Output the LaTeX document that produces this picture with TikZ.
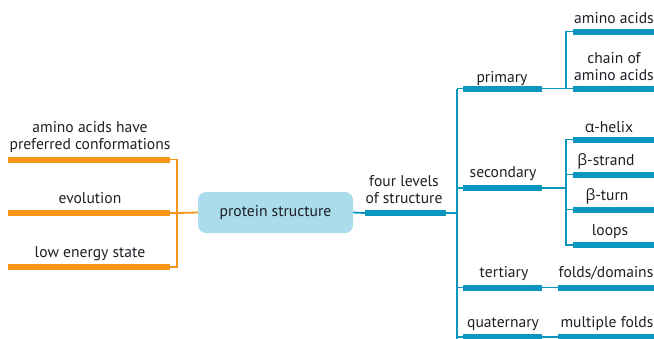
\documentclass[tikz,border=0pt]{standalone}
\usepackage{fontspec}
\setmainfont{PT Sans}
\newfontfamily\greekfont{Open Sans}
\definecolor{txt}{RGB}{30,30,38}
\definecolor{orgbar}{RGB}{245,150,25}
\definecolor{tbl}{RGB}{10,150,190}
\definecolor{boxfill}{RGB}{170,220,235}
\begin{document}
\begin{tikzpicture}[x=1pt,y=-1pt,
  font=\fontsize{15.6}{16.5}\selectfont, text=txt,
  obar/.style={fill=orgbar, draw=none, minimum height=6pt, inner sep=0pt, rectangle},
  tbar/.style={fill=tbl, draw=none, minimum height=6pt, inner sep=0pt, rectangle},
  olink/.style={draw=orgbar, line width=1.8pt},
  tlink/.style={draw=tbl, line width=1.8pt},
  lbl/.style={align=center, inner sep=0pt, anchor=base}]
\useasboundingbox (0,0) rectangle (654,338);

% left orange bars
\node[obar, minimum width=162pt] (o1) at (89,159.5) {};
\node[obar, minimum width=162pt] (o2) at (89,213) {};
\node[obar, minimum width=162pt] (o3) at (89,267) {};
\node[lbl] (lo1) at (90,149) {amino acids have\\preferred conformations};
\node[lbl] (lo2) at (90,203) {evolution};
\node[lbl] (lo3) at (90,257) {low energy state};
\coordinate (oj) at (177,213);
\draw[olink] (o1.east) -| (oj);
\draw[olink] (o3.east) -| (oj);
\draw[olink] (o2.east) -- (oj);

% central box
\node[fill=boxfill, rounded corners=8pt, minimum width=155pt, minimum height=41pt, inner sep=0pt] (ps) at (275.5,212.5) {protein structure};
\draw[olink] (oj) -- (ps.west);

% four levels
\node[tbar, minimum width=81pt] (fl) at (405.5,213) {};
\node[lbl] (lfl) at (404,203) {four levels\\of structure};
\draw[tlink] (ps.east) -- (fl.west);
\coordinate (mt) at (457,88.5);
\coordinate (mb) at (457,340);
\draw[tlink] (mt) -- (mb);
\draw[tlink] (fl.east) -- (457,213);

% level bars
\node[tbar, minimum width=79pt] (pri) at (502.5,88.5) {};
\node[tbar, minimum width=79pt] (sec) at (502.5,188) {};
\node[tbar, minimum width=79pt] (ter) at (502.5,287.5) {};
\node[tbar, minimum width=79pt] (qua) at (502.5,337) {};
\node[lbl] at (502,82) {primary};
\node[lbl] at (503,177) {secondary};
\node[lbl] at (504,277) {tertiary};
\node[lbl] at (503,327) {quaternary};
\draw[tlink] (mt) -- (pri.west);
\draw[tlink] (sec.west -| mt) -- (sec.west);
\draw[tlink] (ter.west -| mt) -- (ter.west);
\draw[tlink] (qua.west -| mt) -- (qua.west);

% primary children
\node[tbar, minimum width=83pt] (aa) at (614.5,31.5) {};
\node[tbar, minimum width=83pt] (ch) at (614.5,88.5) {};
\node[lbl] at (614,23) {amino acids};
\node[lbl] at (614,80) {chain of\\amino acids};
\coordinate (pj) at (566,88.5);
\draw[tlink] (pri.east) -- (ch.west);
\draw[tlink] (aa.west) -| (pj);

% secondary children
\node[tbar, minimum width=83pt] (ah) at (614.5,139.5) {};
\node[tbar, minimum width=83pt] (bs) at (614.5,174.5) {};
\node[tbar, minimum width=83pt] (bt) at (614.5,209.5) {};
\node[tbar, minimum width=83pt] (lp) at (614.5,245) {};
\node[lbl] at (609,132) {{\greekfont α}-helix};
\node[lbl] at (606,165) {{\greekfont β}-strand};
\node[lbl] at (607,200) {{\greekfont β}-turn};
\node[lbl] at (610,235) {loops};
\coordinate (sj) at (566,188);
\draw[tlink] (sec.east) -- (sj);
\draw[tlink] (ah.west) -| (sj);
\draw[tlink] (lp.west) -| (sj);
\draw[tlink] (bs.west) -- (bs.west -| sj);
\draw[tlink] (bt.west) -- (bt.west -| sj);

% tertiary / quaternary children
\node[tbar, minimum width=98pt] (fd) at (607,287.5) {};
\node[tbar, minimum width=98pt] (mf) at (607,337) {};
\node[lbl] at (606,277) {folds/domains};
\node[lbl] at (607,327) {multiple folds};
\draw[tlink] (ter.east) -- (fd.west);
\draw[tlink] (qua.east) -- (mf.west);
\end{tikzpicture}
\end{document}
